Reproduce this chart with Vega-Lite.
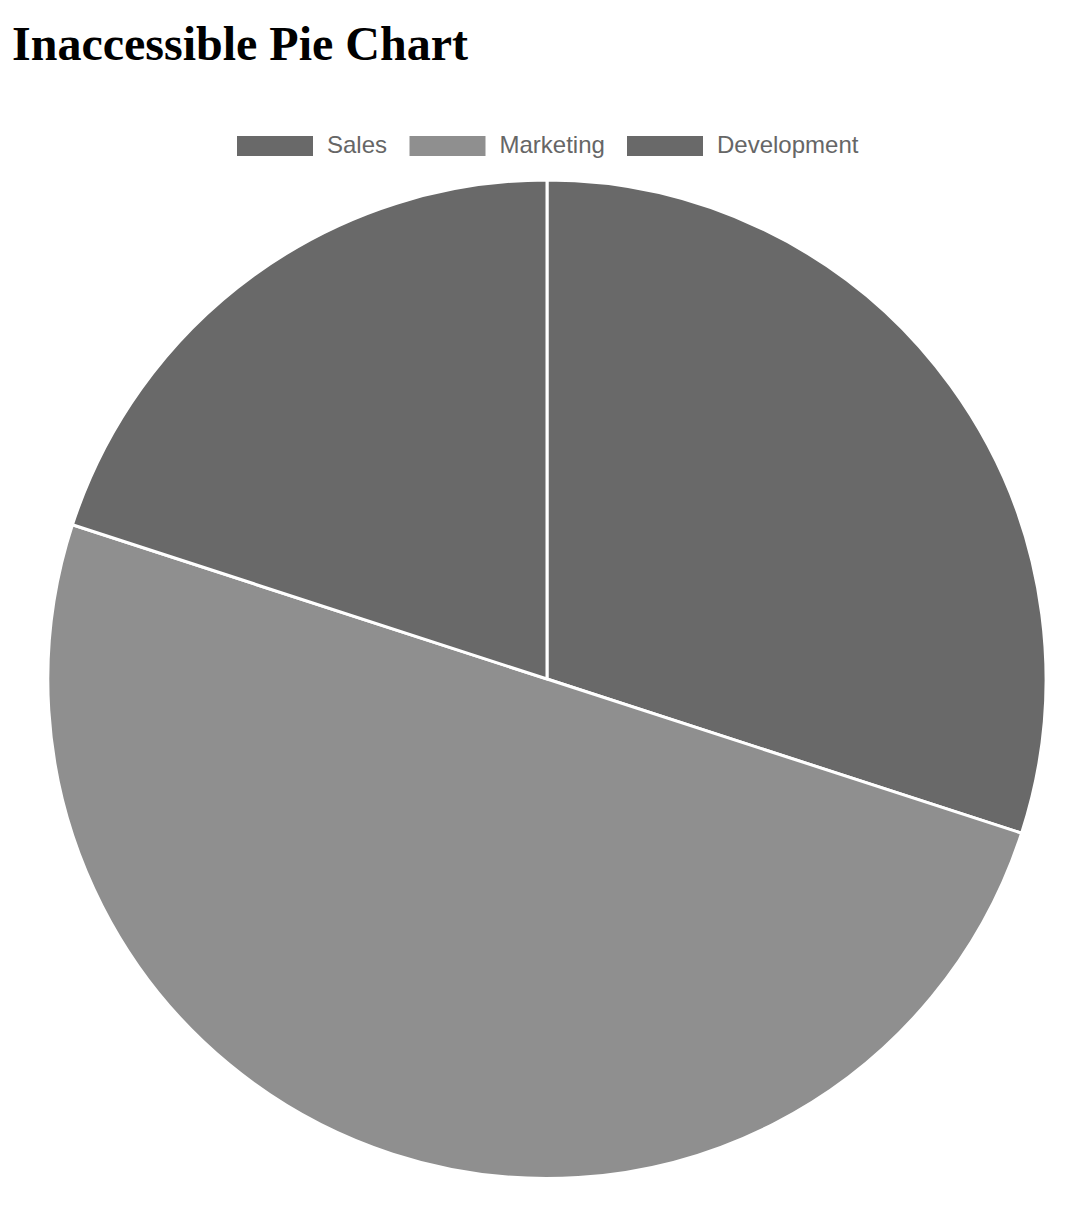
{
  "$schema": "https://vega.github.io/schema/vega-lite/v6.json",
  "autosize": "none",
  "padding": {"left": 48, "top": 180, "right": 28, "bottom": 50},
  "width": 998,
  "height": 998,
  "background": "white",
  "title": {
    "text": "Inaccessible Pie Chart",
    "anchor": "start",
    "frame": "group",
    "font": "Liberation Serif",
    "fontSize": 48,
    "fontWeight": "bold",
    "color": "#000000",
    "baseline": "alphabetic",
    "dx": -36,
    "dy": 4
  },
  "data": {
    "values": [
      {"department": "Sales", "value": 30, "idx": 1},
      {"department": "Marketing", "value": 50, "idx": 2},
      {"department": "Development", "value": 20, "idx": 3}
    ]
  },
  "mark": {"type": "arc", "stroke": "#ffffff", "strokeWidth": 3},
  "encoding": {
    "theta": {"field": "value", "type": "quantitative", "stack": true},
    "order": {"field": "idx", "type": "quantitative"},
    "color": {
      "field": "department",
      "type": "nominal",
      "scale": {
        "domain": ["Sales", "Marketing", "Development"],
        "range": ["#696969", "#8f8f8f", "#696969"]
      },
      "legend": {
        "title": null,
        "orient": "none",
        "direction": "horizontal",
        "legendX": 189,
        "legendY": -72,
        "symbolType": "M-1,-0.263H1V0.263H-1Z",
        "symbolSize": 5776,
        "symbolStrokeWidth": 0,
        "symbolOpacity": 1,
        "labelFont": "Liberation Sans",
        "labelFontSize": 24,
        "labelColor": "#666666",
        "labelOffset": 14,
        "columnPadding": 21.5
      }
    }
  },
  "config": {"view": {"stroke": null}}
}
